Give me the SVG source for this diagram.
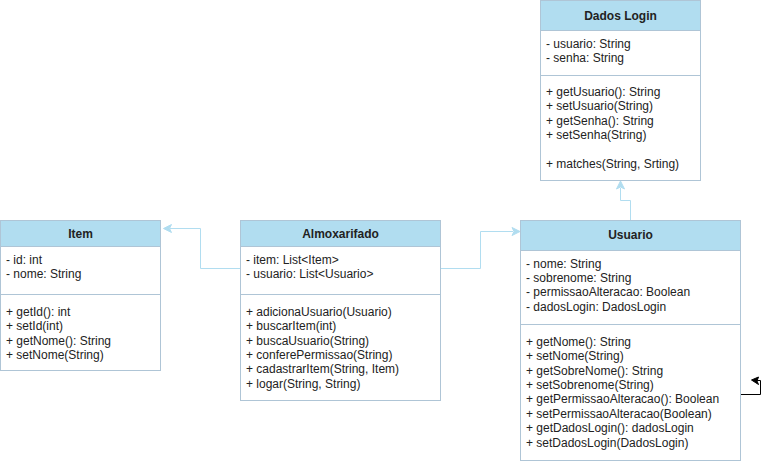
<svg xmlns="http://www.w3.org/2000/svg" width="769" height="464" viewBox="0 0 769 464">
<style>
.box{fill:#ffffff;stroke:#afc5d6;stroke-width:1}
.hdr{fill:#b1ddf0;stroke:#afc5d6;stroke-width:1}
.sep{stroke:#afc5d6;stroke-width:1;fill:none}
.t{font-family:"Liberation Sans",Arial,sans-serif;font-size:12px;font-weight:bold;fill:#222;text-anchor:middle}
.m{font-family:"Liberation Sans",Arial,sans-serif;font-size:12px;fill:#222}
.c{fill:none;stroke:#b1ddf0;stroke-width:1}
.ah{fill:#b1ddf0;stroke:#b1ddf0;stroke-width:1}
</style>
<rect width="769" height="464" fill="#ffffff"/>
<g id="connectors">
  <path class="c" d="M240.5,268.5 H200.5 V228.5 H170"/>
  <path class="ah" d="M163.5,228.5 L171.5,224.5 L169.5,228.5 L171.5,232.5 Z"/>
  <path class="c" d="M440.5,268.5 H480.5 V231.5 H513"/>
  <path class="ah" d="M520,231.5 L512,235.5 L514,231.5 L512,227.5 Z"/>
  <path class="c" d="M630.5,220.5 V200.5 H620.5 V188"/>
  <path class="ah" d="M620.5,181 L624.5,189 L620.5,187 L616.5,189 Z"/>
  <path fill="none" stroke="#000" stroke-width="1" d="M740.5,394.5 H760.5 V380.5 H757"/>
  <path fill="#000" stroke="#000" stroke-width="1" d="M751.5,380 L758.5,377 L757,381 L758.5,384.5 Z"/>
</g>
<g id="dados-login">
  <rect class="box" x="540.5" y="0.5" width="160" height="180"/>
  <rect class="hdr" x="540.5" y="0.5" width="160" height="30"/>
  <line class="sep" x1="540.5" y1="75.5" x2="700.5" y2="75.5"/>
  <text class="t" x="620.5" y="19.5">Dados Login</text>
  <text class="m" x="546" y="47.5">- usuario: String</text>
  <text class="m" x="546" y="61.9">- senha: String</text>
  <text class="m" x="546" y="96">+ getUsuario(): String</text>
  <text class="m" x="546" y="110.4">+ setUsuario(String)</text>
  <text class="m" x="546" y="124.8">+ getSenha(): String</text>
  <text class="m" x="546" y="139.2">+ setSenha(String)</text>
  <text class="m" x="546" y="168">+ matches(String, Srting)</text>
</g>
<g id="item">
  <rect class="box" x="0.5" y="220.5" width="160" height="150"/>
  <rect class="hdr" x="0.5" y="220.5" width="160" height="26"/>
  <line class="sep" x1="0.5" y1="294.5" x2="160.5" y2="294.5"/>
  <text class="t" x="80.5" y="237.5">Item</text>
  <text class="m" x="6" y="263.6">- id: int</text>
  <text class="m" x="6" y="278">- nome: String</text>
  <text class="m" x="6" y="315.7">+ getId(): int</text>
  <text class="m" x="6" y="330.1">+ setId(int)</text>
  <text class="m" x="6" y="344.5">+ getNome(): String</text>
  <text class="m" x="6" y="358.9">+ setNome(String)</text>
</g>
<g id="almoxarifado">
  <rect class="box" x="240.5" y="220.5" width="200" height="180"/>
  <rect class="hdr" x="240.5" y="220.5" width="200" height="26"/>
  <line class="sep" x1="240.5" y1="294.5" x2="440.5" y2="294.5"/>
  <text class="t" x="340.5" y="237.5">Almoxarifado</text>
  <text class="m" x="246" y="263.6">- item: List&lt;Item&gt;</text>
  <text class="m" x="246" y="278">- usuario: List&lt;Usuario&gt;</text>
  <text class="m" x="246" y="315.7">+ adicionaUsuario(Usuario)</text>
  <text class="m" x="246" y="330.1">+ buscarItem(int)</text>
  <text class="m" x="246" y="344.5">+ buscaUsuario(String)</text>
  <text class="m" x="246" y="358.9">+ conferePermissao(String)</text>
  <text class="m" x="246" y="373.3">+ cadastrarItem(String, Item)</text>
  <text class="m" x="246" y="387.7">+ logar(String, String)</text>
</g>
<g id="usuario">
  <rect class="box" x="520.5" y="220.5" width="220" height="240"/>
  <rect class="hdr" x="520.5" y="220.5" width="220" height="30"/>
  <line class="sep" x1="520.5" y1="324.5" x2="740.5" y2="324.5"/>
  <text class="t" x="630.5" y="239.3">Usuario</text>
  <text class="m" x="526" y="267.5">- nome: String</text>
  <text class="m" x="526" y="281.9">- sobrenome: String</text>
  <text class="m" x="526" y="296.3">- permissaoAlteracao: Boolean</text>
  <text class="m" x="526" y="310.7">- dadosLogin: DadosLogin</text>
  <text class="m" x="526" y="345.7">+ getNome(): String</text>
  <text class="m" x="526" y="360.1">+ setNome(String)</text>
  <text class="m" x="526" y="374.5">+ getSobreNome(): String</text>
  <text class="m" x="526" y="388.9">+ setSobrenome(String)</text>
  <text class="m" x="526" y="403.3">+ getPermissaoAlteracao(): Boolean</text>
  <text class="m" x="526" y="417.7">+ setPermissaoAlteracao(Boolean)</text>
  <text class="m" x="526" y="432.1">+ getDadosLogin(): dadosLogin</text>
  <text class="m" x="526" y="446.5">+ setDadosLogin(DadosLogin)</text>
</g>
</svg>
